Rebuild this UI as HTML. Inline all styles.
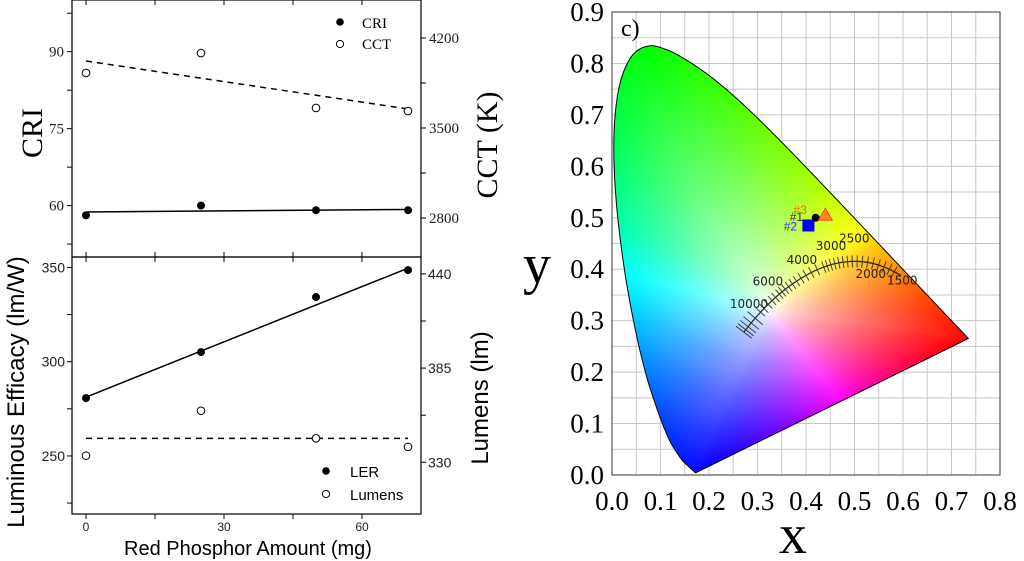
<!DOCTYPE html>
<html><head><meta charset="utf-8">
<style>
html,body{margin:0;padding:0;background:#fff;}
#wrap{position:relative;width:1024px;height:561px;overflow:hidden;}
svg,canvas{position:absolute;left:0;top:0;}
</style></head>
<body>
<div id="wrap">
<svg id="gridsvg" width="1024" height="561" xmlns="http://www.w3.org/2000/svg"></svg>
<canvas id="cie" width="1024" height="561"></canvas>
<svg id="svg" width="1024" height="561" xmlns="http://www.w3.org/2000/svg"></svg>
</div>
<script>
// ---- Data: left charts ----
const amounts = [0, 25, 50, 70];
const criValues = [58.1, 60.0, 59.1, 59.1];
const cctValues = [3928, 4083, 3656, 3632];
const criFit = [58.75, 59.25];
const cctFit = [4021, 3648];
const lerValues = [280.7, 305.1, 334.3, 348.6];
const lumensValues = [333.9, 360.1, 344.0, 339.0];
const lerFit = [281.2, 349.6];
const lumensFit = [344, 344];
const xTicks = [0, 30, 60];
const criTicks = [60, 75, 90];
const cctTicks = [2800, 3500, 4200];
const lerTicks = [250, 300, 350];
const lumTicks = [330, 385, 440];
// ---- Data: CIE ----
const cieXTicks = ["0.0","0.1","0.2","0.3","0.4","0.5","0.6","0.7","0.8"];
const cieYTicks = ["0.0","0.1","0.2","0.3","0.4","0.5","0.6","0.7","0.8","0.9"];
const locusX = [0.1741,0.1714,0.1644,0.1566,0.1440,0.1241,0.1096,0.0913,0.0687,0.0454,0.0235,0.0082,0.0039,0.0139,0.0389,0.0743,0.1142,0.1547,0.1929,0.2296,0.2658,0.3016,0.3373,0.3731,0.4087,0.4441,0.4788,0.5125,0.5448,0.5752,0.6029,0.6270,0.6482,0.6658,0.6801,0.6915,0.7079,0.7190,0.7260,0.7347];
const locusY = [0.0050,0.0051,0.0109,0.0177,0.0297,0.0578,0.0868,0.1327,0.2007,0.2950,0.4127,0.5384,0.6548,0.7502,0.8120,0.8338,0.8262,0.8059,0.7816,0.7543,0.7243,0.6923,0.6589,0.6245,0.5896,0.5547,0.5202,0.4866,0.4544,0.4242,0.3965,0.3725,0.3514,0.3340,0.3197,0.3083,0.2920,0.2809,0.2740,0.2653];
const cctLabels = ["10000","6000","4000","3000","2500","2000","1500"];
const cctLabelX = [0.243,0.290,0.360,0.420,0.468,0.502,0.567];
const cctLabelY = [0.325,0.368,0.410,0.437,0.452,0.383,0.370];
const sampleNames = ["#1","#2","#3"];
const sampleX = [0.420, 0.405, 0.440];
const sampleY = [0.500, 0.485, 0.505];

const NS="http://www.w3.org/2000/svg";
const svg=document.getElementById('svg');
const gsvg=document.getElementById('gridsvg');
function el(tag,attrs,parent,text){const e=document.createElementNS(NS,tag);for(const k in attrs)e.setAttribute(k,attrs[k]);if(text!==undefined)e.textContent=text;(parent||svg).appendChild(e);return e;}

const sx=v=>86+v*4.6;
const yCRI=v=>205.6-(v-60)*5.13;
const yCCT=v=>218-(v-2800)*90/700;
const yLER=v=>361.7-(v-300)*1.885;
const yLum=v=>462.3-(v-330)*1.713;
const SERIF='"Liberation Serif",serif', SANS='"Liberation Sans",sans-serif';

let g=el('g',{});

el('rect',{x:72,y:0,width:349,height:257,fill:'none',stroke:'#000','stroke-width':1.2},g);
let g2=el('g',{});

el('rect',{x:72,y:257,width:349,height:257,fill:'none',stroke:'#000','stroke-width':1.2},g2);

[0,15,30,45,60].forEach(v=>{
  el('line',{x1:sx(v),x2:sx(v),y1:0,y2:5,stroke:'#000'});
  el('line',{x1:sx(v),x2:sx(v),y1:252,y2:262,stroke:'#000'});
  el('line',{x1:sx(v),x2:sx(v),y1:514,y2:519,stroke:'#000'});
});
xTicks.forEach(v=>{const t=el('text',{x:sx(v),y:531,'font-family':SANS,'font-size':12,'text-anchor':'middle',fill:'#222'},null,v);
});

[52.5,60,67.5,75,82.5,90,97.5].forEach(v=>el('line',{x1:67,x2:72,y1:yCRI(v),y2:yCRI(v),stroke:'#000'}));
[2800,3150,3500,3850,4200].forEach(v=>el('line',{x1:421,x2:426,y1:yCCT(v),y2:yCCT(v),stroke:'#000'}));
criTicks.forEach(v=>{const t=el('text',{x:64,y:yCRI(v)+5,'font-family':SERIF,'font-size':15,'text-anchor':'end',fill:'#222'},null,v);
});
cctTicks.forEach(v=>{const t=el('text',{x:429,y:yCCT(v)+5,'font-family':SERIF,'font-size':15,fill:'#222'},null,v);
});

[225,250,275,300,325,350].forEach(v=>el('line',{x1:67,x2:72,y1:yLER(v),y2:yLER(v),stroke:'#000'}));
[330,357.5,385,412.5,440].forEach(v=>el('line',{x1:421,x2:426,y1:yLum(v),y2:yLum(v),stroke:'#000'}));
lerTicks.forEach(v=>{const t=el('text',{x:65,y:yLER(v)+5,'font-family':SANS,'font-size':14,'text-anchor':'end',fill:'#222'},null,v);
});
lumTicks.forEach(v=>{const t=el('text',{x:428,y:yLum(v)+5,'font-family':SANS,'font-size':14,fill:'#222'},null,v);
});

let l;
l=el('line',{x1:sx(0),y1:yCRI(criFit[0]),x2:sx(70),y2:yCRI(criFit[1]),stroke:'#000','stroke-width':1.5});

l=el('line',{x1:sx(0),y1:yCCT(cctFit[0]),x2:sx(70),y2:yCCT(cctFit[1]),stroke:'#000','stroke-width':1.5,'stroke-dasharray':'6,5'});

l=el('line',{x1:sx(0),y1:yLER(lerFit[0]),x2:sx(70),y2:yLER(lerFit[1]),stroke:'#000','stroke-width':1.5});

l=el('line',{x1:sx(0),y1:yLum(lumensFit[0]),x2:sx(70),y2:yLum(lumensFit[1]),stroke:'#000','stroke-width':1.5,'stroke-dasharray':'6,5'});


amounts.forEach((a,i)=>{
  let c;
  c=el('circle',{cx:sx(a),cy:yCRI(criValues[i]),r:4,fill:'#000'});
  
  c=el('circle',{cx:sx(a),cy:yCCT(cctValues[i]),r:3.8,fill:'#fff',stroke:'#000','stroke-width':1});
  
  c=el('circle',{cx:sx(a),cy:yLER(lerValues[i]),r:4,fill:'#000'});
  
  c=el('circle',{cx:sx(a),cy:yLum(lumensValues[i]),r:3.8,fill:'#fff',stroke:'#000','stroke-width':1});
  
});

let lg=el('g',{});
el('circle',{cx:340,cy:22,r:3.8,fill:'#000'},lg);
el('text',{x:362,y:28,'font-family':SERIF,'font-size':15},lg,'CRI');
el('circle',{cx:340,cy:44,r:3.6,fill:'#fff',stroke:'#000'},lg);
el('text',{x:362,y:49,'font-family':SERIF,'font-size':15},lg,'CCT');
lg=el('g',{});
el('circle',{cx:326,cy:471,r:3.8,fill:'#000'},lg);
el('text',{x:350,y:477,'font-family':SANS,'font-size':15},lg,'LER');
el('circle',{cx:326,cy:494,r:3.6,fill:'#fff',stroke:'#000'},lg);
el('text',{x:350,y:500,'font-family':SANS,'font-size':15},lg,'Lumens');

let t;
t=el('text',{x:0,y:0,transform:'translate(42,133) rotate(-90)','font-family':SERIF,'font-size':30,'text-anchor':'middle'},null,'CRI');

t=el('text',{x:0,y:0,transform:'translate(497,145) rotate(-90)','font-family':SERIF,'font-size':30,'text-anchor':'middle'},null,'CCT (K)');

t=el('text',{x:0,y:0,transform:'translate(24,392) rotate(-90)','font-family':SANS,'font-size':24,'text-anchor':'middle'},null,'Luminous Efficacy (lm/W)');

t=el('text',{x:0,y:0,transform:'translate(488,398) rotate(-90)','font-family':SANS,'font-size':24,'text-anchor':'middle'},null,'Lumens (lm)');

t=el('text',{x:248,y:555,'font-family':SANS,'font-size':20,'text-anchor':'middle'},null,'Red Phosphor Amount (mg)');


// ---- CIE chart ----
const X0=612,X1=1000,Y0=475,Y1=12;
const cx=v=>X0+v/0.8*(X1-X0);
const cy=v=>Y0-v/0.9*(Y0-Y1);
let gg=el('g',{},gsvg);
for(let i=0;i<=16;i++){el('line',{x1:cx(i*0.05),x2:cx(i*0.05),y1:Y1,y2:Y0,stroke:'#c8c8c8','stroke-width':1},gg);}
for(let i=0;i<=18;i++){el('line',{x1:X0,x2:X1,y1:cy(i*0.05),y2:cy(i*0.05),stroke:'#c8c8c8','stroke-width':1},gg);}

const raw=locusX.map((x,i)=>[cx(x),cy(locusY[i])]);
const poly=[];
for(let i=0;i<raw.length-1;i++){
  const p0=raw[Math.max(i-1,0)],p1=raw[i],p2=raw[i+1],p3=raw[Math.min(i+2,raw.length-1)];
  for(let k=0;k<8;k++){const s=k/8,s2=s*s,s3=s2*s;
    poly.push([0.5*((2*p1[0])+(-p0[0]+p2[0])*s+(2*p0[0]-5*p1[0]+4*p2[0]-p3[0])*s2+(-p0[0]+3*p1[0]-3*p2[0]+p3[0])*s3),
               0.5*((2*p1[1])+(-p0[1]+p2[1])*s+(2*p0[1]-5*p1[1]+4*p2[1]-p3[1])*s2+(-p0[1]+3*p1[1]-3*p2[1]+p3[1])*s3)]);}
}
poly.push(raw[raw.length-1]);

const ctx=document.getElementById('cie').getContext('2d');
ctx.beginPath();poly.forEach((p,i)=>i?ctx.lineTo(p[0],p[1]):ctx.moveTo(p[0],p[1]));ctx.closePath();
const WX=cx(0.325),WY=cy(0.32);
const angKeys=[-9.5,42,92,115,166,247,308,350.5];
const hueKeys=[0,60,95,120,180,240,300,360];
const dmax=[];
for(let a=0;a<360;a++){const r=a*Math.PI/180;let d=1;while(d<600&&ctx.isPointInPath(WX+Math.cos(r)*d,WY-Math.sin(r)*d))d+=1;dmax.push(d);}
function hsv(h,s){h=((h%360)+360)%360;const c=s,x=c*(1-Math.abs((h/60)%2-1)),m=1-c;let r,g,b;
  if(h<60)[r,g,b]=[c,x,0];else if(h<120)[r,g,b]=[x,c,0];else if(h<180)[r,g,b]=[0,c,x];else if(h<240)[r,g,b]=[0,x,c];else if(h<300)[r,g,b]=[x,0,c];else [r,g,b]=[c,0,x];
  return [(r+m)*255,(g+m)*255,(b+m)*255];}
const img=ctx.createImageData(1024,561);
for(let py=Y1;py<=Y0;py++){for(let px=X0;px<=X1;px++){
  if(!ctx.isPointInPath(px+0.5,py+0.5))continue;
  const dx=px-WX,dy=WY-py;let ang=Math.atan2(dy,dx)*180/Math.PI;if(ang<-9.5)ang+=360;
  let h=0;for(let i=0;i<angKeys.length-1;i++){if(ang>=angKeys[i]&&ang<=angKeys[i+1]){h=hueKeys[i]+(ang-angKeys[i])/(angKeys[i+1]-angKeys[i])*(hueKeys[i+1]-hueKeys[i]);break;}}
  const ai=((Math.round(Math.atan2(dy,dx)*180/Math.PI)%360)+360)%360;
  const sat=Math.min(1,Math.pow(Math.hypot(dx,dy)/dmax[ai],0.75));
  const [r,gg2,b]=hsv(h,sat);
  const k=(py*1024+px)*4;
  img.data[k]=r;img.data[k+1]=gg2;img.data[k+2]=b;img.data[k+3]=255;
}}
ctx.putImageData(img,0,0);

let pth=el('polygon',{points:poly.map(p=>p[0].toFixed(1)+','+p[1].toFixed(1)).join(' '),fill:'none',stroke:'#000','stroke-width':1});


function planck(T){let x;
  if(T<=4000)x=-0.2661239e9/T**3-0.2343589e6/T**2+0.8776956e3/T+0.179910;
  else x=-3.0258469e9/T**3+2.1070379e6/T**2+0.2226347e3/T+0.240390;
  let y;
  if(T<=2222)y=-1.1063814*x**3-1.34811020*x**2+2.18555832*x-0.20219683;
  else if(T<=4000)y=-0.9549476*x**3-1.37418593*x**2+2.09137015*x-0.16748867;
  else y=3.0817580*x**3-5.87338670*x**2+3.75112997*x-0.37001483;
  return [x,y];}
let pts=[];for(let T=1100;T<=12000;T+=50)pts.push(planck(T));
let pl=el('polyline',{points:pts.map(p=>cx(p[0]).toFixed(1)+','+cy(p[1]).toFixed(1)).join(' '),fill:'none',stroke:'#222','stroke-width':1.2});

const isoT=[1500,1600,1700,1800,1900,2000,2100,2200,2300,2400,2500,2600,2700,2800,2900,3000,3200,3400,3600,3800,4000,4200,4400,4600,4800,5000,5300,5600,6000,6500,7000,8000,9000,10000,11000,12000];
let ig=el('g',{});
isoT.forEach(T=>{const a=planck(T),b=planck(T+20);let dx=cx(b[0])-cx(a[0]),dy=cy(b[1])-cy(a[1]);const L=Math.hypot(dx,dy)||1;const nx=-dy/L,ny=dx/L;const h=T>=8000?10:6;
  el('line',{x1:cx(a[0])-nx*h,y1:cy(a[1])-ny*h,x2:cx(a[0])+nx*h,y2:cy(a[1])+ny*h,stroke:'#333','stroke-width':0.9},ig);});
cctLabels.forEach((s,i)=>{const t=el('text',{x:cx(cctLabelX[i]),y:cy(cctLabelY[i]),'font-family':'"DejaVu Sans",sans-serif','font-size':12,fill:'#222'},null,s);
});

let s;
s=el('rect',{x:cx(sampleX[1])-6,y:cy(sampleY[1])-6,width:12,height:12,fill:'#0000ff'});

s=el('circle',{cx:cx(sampleX[0]),cy:cy(sampleY[0]),r:4,fill:'#000'});

s=el('polygon',{points:`${cx(sampleX[2])},${cy(sampleY[2])-7} ${cx(sampleX[2])-7},${cy(sampleY[2])+5} ${cx(sampleX[2])+7},${cy(sampleY[2])+5}`,fill:'#ff8c1a',stroke:'#ff3030','stroke-width':0.8});

t=el('text',{x:cx(sampleX[1])-18,y:cy(sampleY[1])+5,'font-family':SANS,'font-size':12,fill:'#3030ff','text-anchor':'middle'},null,sampleNames[1]);

t=el('text',{x:cx(sampleX[0])-26,y:cy(sampleY[0])+3,'font-family':SANS,'font-size':12,fill:'#333'},null,sampleNames[0]);

t=el('text',{x:cx(sampleX[2])-32,y:cy(sampleY[2])-1,'font-family':SANS,'font-size':12,fill:'#ff6a00'},null,sampleNames[2]);


let fr=el('rect',{x:X0,y:Y1,width:X1-X0,height:Y0-Y1,fill:'none',stroke:'#555','stroke-width':1.2});

cieXTicks.forEach((s,i)=>{const t=el('text',{x:cx(i*0.1),y:510,'font-family':SERIF,'font-size':27,'text-anchor':'middle'},null,s);
});
cieYTicks.forEach((s,i)=>{const t=el('text',{x:604,y:cy(i*0.1)+9,'font-family':SERIF,'font-size':27,'text-anchor':'end'},null,s);
});
t=el('text',{x:537,y:283,'font-family':SERIF,'font-size':56,'text-anchor':'middle'},null,'y');

t=el('text',{x:793,y:553,'font-family':SERIF,'font-size':56,'text-anchor':'middle'},null,'x');

t=el('text',{x:621,y:36,'font-family':SERIF,'font-size':24},null,'c)');

</script>
</body></html>
